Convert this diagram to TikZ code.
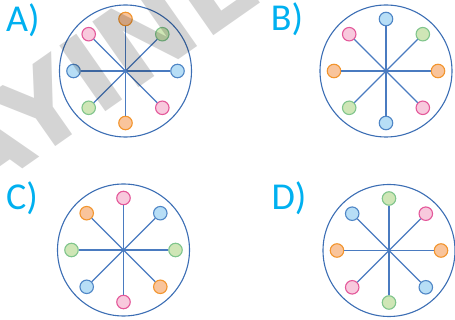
\documentclass[tikz,border=0pt]{standalone}
\usepackage{fontspec}
\setmainfont{Carlito}
\newfontfamily\markfont{DejaVu Sans}
\usepackage{tikz}
\usetikzlibrary{positioning}
\definecolor{labcyan}{HTML}{00B0F0}
\definecolor{rimblue}{HTML}{3C6EB4}
\definecolor{spokeblue}{HTML}{4A7BC0}
\definecolor{HTML-blue}{HTML}{4F86C6}
\definecolor{HTML-bluefill}{HTML}{B7DEF6}
\definecolor{HTML-orange}{HTML}{F2952E}
\definecolor{HTML-orangefill}{HTML}{F9C49B}
\definecolor{HTML-green}{HTML}{80C58C}
\definecolor{HTML-greenfill}{HTML}{CFE6B6}
\definecolor{HTML-pink}{HTML}{E4589A}
\definecolor{HTML-pinkfill}{HTML}{F8C9DD}
\tikzset{
    rim/.style={circle, draw=rimblue, line width=1.1pt, minimum size=132pt, inner sep=0pt},
    spoke/.style={draw=spokeblue, line width=1.3pt},
    hubdot/.style={circle, fill=spokeblue, minimum size=3pt, inner sep=0pt},
    dot/.style={circle, line width=1.1pt, minimum size=13.5pt, inner sep=0pt},
    bluedot/.style={dot, draw=HTML-blue, fill=HTML-bluefill},
    orangedot/.style={dot, draw=HTML-orange, fill=HTML-orangefill},
    greendot/.style={dot, draw=HTML-green, fill=HTML-greenfill},
    pinkdot/.style={dot, draw=HTML-pink, fill=HTML-pinkfill},
    optlabel/.style={text=labcyan, font=\fontsize{38}{38}\selectfont, inner sep=0pt},
    watermark/.style={text=black, opacity=0.17, rotate=35, inner sep=0pt,
        font=\markfont\bfseries\fontsize{110}{110}\selectfont}
}

\begin{document}
\begin{tikzpicture}[x=1pt, y=-1pt]
  \useasboundingbox (0,0) rectangle (455,320);
  % labels
  \node[optlabel] (labA) at (23,20) {A)};
  \node[optlabel] (labB) at (287,19) {B)};
  \node[optlabel] (labC) at (22,198) {C)};
  \node[optlabel] (labD) at (289,198) {D)};
  % wheel A
  \node[rim] (rimA) at (125.5,71) {};
  \node[hubdot] (hubA) at (125.5,71) {};
  \node[orangedot] (a1) at (125.5,19) {};
  \node[greendot] (a2) at (162.3,34.2) {};
  \node[bluedot] (a3) at (177.5,71) {};
  \node[pinkdot] (a4) at (162.3,107.8) {};
  \node[orangedot] (a5) at (125.5,123) {};
  \node[greendot] (a6) at (88.7,107.8) {};
  \node[bluedot] (a7) at (73.5,71) {};
  \node[pinkdot] (a8) at (88.7,34.2) {};
  % wheel B
  \node[rim] (rimB) at (386,71) {};
  \node[hubdot] (hubB) at (386,71) {};
  \node[bluedot] (b1) at (386,19) {};
  \node[greendot] (b2) at (422.8,34.2) {};
  \node[orangedot] (b3) at (438,71) {};
  \node[pinkdot] (b4) at (422.8,107.8) {};
  \node[bluedot] (b5) at (386,123) {};
  \node[greendot] (b6) at (349.2,107.8) {};
  \node[orangedot] (b7) at (334,71) {};
  \node[pinkdot] (b8) at (349.2,34.2) {};
  % wheel C
  \node[rim] (rimC) at (123.5,250) {};
  \node[hubdot] (hubC) at (123.5,250) {};
  \node[pinkdot] (c1) at (123.5,198) {};
  \node[bluedot] (c2) at (160.3,213.2) {};
  \node[greendot] (c3) at (175.5,250) {};
  \node[orangedot] (c4) at (160.3,286.8) {};
  \node[pinkdot] (c5) at (123.5,302) {};
  \node[bluedot] (c6) at (86.7,286.8) {};
  \node[greendot] (c7) at (71.5,250) {};
  \node[orangedot] (c8) at (86.7,213.2) {};
  % wheel D
  \node[rim] (rimD) at (389,250.5) {};
  \node[hubdot] (hubD) at (389,250.5) {};
  \node[greendot] (d1) at (389,198.5) {};
  \node[pinkdot] (d2) at (425.8,213.7) {};
  \node[orangedot] (d3) at (441,250.5) {};
  \node[bluedot] (d4) at (425.8,287.3) {};
  \node[greendot] (d5) at (389,302.5) {};
  \node[pinkdot] (d6) at (352.2,287.3) {};
  \node[orangedot] (d7) at (337,250.5) {};
  \node[bluedot] (d8) at (352.2,213.7) {};
  % spokes
  \draw[spoke] (hubA.center) -- (a1); \draw[spoke] (hubA.center) -- (a2);
  \draw[spoke] (hubA.center) -- (a3); \draw[spoke] (hubA.center) -- (a4);
  \draw[spoke] (hubA.center) -- (a5); \draw[spoke] (hubA.center) -- (a6);
  \draw[spoke] (hubA.center) -- (a7); \draw[spoke] (hubA.center) -- (a8);
  \draw[spoke] (hubB.center) -- (b1); \draw[spoke] (hubB.center) -- (b2);
  \draw[spoke] (hubB.center) -- (b3); \draw[spoke] (hubB.center) -- (b4);
  \draw[spoke] (hubB.center) -- (b5); \draw[spoke] (hubB.center) -- (b6);
  \draw[spoke] (hubB.center) -- (b7); \draw[spoke] (hubB.center) -- (b8);
  \draw[spoke] (hubC.center) -- (c1); \draw[spoke] (hubC.center) -- (c2);
  \draw[spoke] (hubC.center) -- (c3); \draw[spoke] (hubC.center) -- (c4);
  \draw[spoke] (hubC.center) -- (c5); \draw[spoke] (hubC.center) -- (c6);
  \draw[spoke] (hubC.center) -- (c7); \draw[spoke] (hubC.center) -- (c8);
  \draw[spoke] (hubD.center) -- (d1); \draw[spoke] (hubD.center) -- (d2);
  \draw[spoke] (hubD.center) -- (d3); \draw[spoke] (hubD.center) -- (d4);
  \draw[spoke] (hubD.center) -- (d5); \draw[spoke] (hubD.center) -- (d6);
  \draw[spoke] (hubD.center) -- (d7); \draw[spoke] (hubD.center) -- (d8);
  % watermark
  \begin{scope}
    \clip (0,0) rectangle (455,320);
    \node[watermark] (mark) at (152,30) {YAYINLARI};
  \end{scope}
\end{tikzpicture}
\end{document}
